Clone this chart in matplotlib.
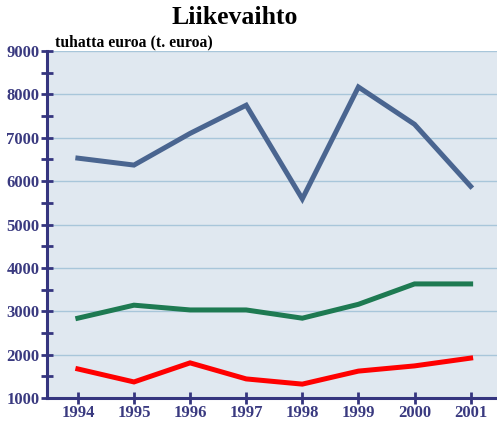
import matplotlib
matplotlib.use("Agg")
import matplotlib.pyplot as plt
from matplotlib.ticker import MultipleLocator

years = ["1994", "1995", "1996", "1997", "1998", "1999", "2000", "2001"]
blue_vals = [6530, 6370, 7100, 7750, 5590, 8170, 7310, 5880]
green_vals = [2840, 3140, 3030, 3030, 2840, 3160, 3630, 3630]
red_vals = [1670, 1370, 1810, 1440, 1320, 1620, 1740, 1920]

navy = "#35357f"
fig = plt.figure(figsize=(4.97, 4.21), dpi=100)
ax = fig.add_axes([47/497, 23/421, 1 - 47/497, (398-51)/421])
ax.set_facecolor("#e0e8f0")
x = list(range(len(years)))
ax.plot(x, blue_vals, color="#4a6590", lw=3.6, solid_joinstyle="miter", zorder=3)
ax.plot(x, green_vals, color="#1e7a52", lw=3.6, solid_joinstyle="miter", zorder=3)
ax.plot(x, red_vals, color="#ff0000", lw=3.6, solid_joinstyle="miter", zorder=3)

ax.set_xlim(-0.55, 7.47)
ax.set_ylim(1000, 9000)
ax.yaxis.set_major_locator(MultipleLocator(1000))
ax.yaxis.set_minor_locator(MultipleLocator(500))
ax.set_xticks(x)
ax.set_xticklabels(years)
ax.grid(axis="y", which="major", color="#a8c6da", lw=1.0, zorder=1)
for s in ["top", "right"]:
    ax.spines[s].set_visible(False)
for s in ["left", "bottom"]:
    ax.spines[s].set_color(navy)
    ax.spines[s].set_linewidth(2.2)
ax.tick_params(axis="both", which="both", direction="inout", color=navy, width=2.0)
ax.tick_params(axis="both", which="major", length=9)
ax.tick_params(axis="y", which="minor", length=9)
ax.tick_params(axis="y", pad=1)
ax.tick_params(axis="x", pad=0.5)
for lab in ax.get_xticklabels() + ax.get_yticklabels():
    lab.set_fontfamily("Liberation Serif")
    lab.set_fontweight("bold")
    lab.set_fontsize(12.0)
    lab.set_color("#3a3a80")

fig.text(235/497, 1 - 18/421, "Liikevaihto", ha="center", va="center",
         fontfamily="Liberation Serif", fontweight="bold", fontsize=18.5, color="black")
fig.text(55/497, 1 - 42/421, "tuhatta euroa (t. euroa)", ha="left", va="center",
         fontfamily="Liberation Serif", fontweight="bold", fontsize=11.3, color="black")

fig.savefig("out.png", dpi=100)
